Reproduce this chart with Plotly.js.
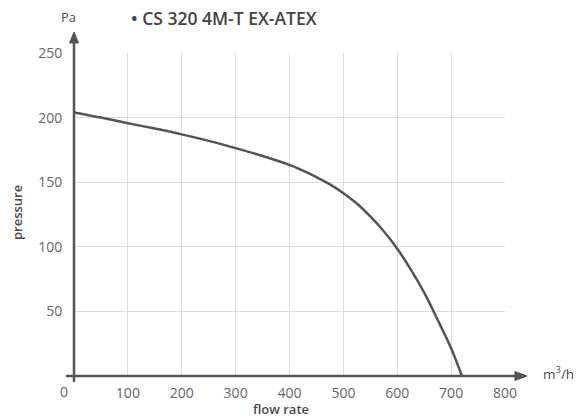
<!DOCTYPE html>
<html>
<head>
<meta charset="utf-8">
<script src="https://cdn.plot.ly/plotly-3.0.1.min.js"></script>
<style>html,body{margin:0;padding:0;background:#fff;}#chart{width:584px;height:419px;}</style>
</head>
<body>
<div id="chart"></div>
<script>
const flowRate = [0, 50, 100, 150, 200, 250, 300, 350, 400, 425, 450, 475, 500, 525, 550, 575, 600, 625, 650, 675, 700, 720];
const pressure = [204, 200, 195.7, 191.5, 187, 182, 176.4, 170.3, 163.4, 159, 154, 148.3, 141.5, 133.5, 123.5, 112, 98.5, 82.5, 64.5, 43.5, 21.5, 0];
const xTicks = [100, 200, 300, 400, 500, 600, 700, 800];
const yTicks = [50, 100, 150, 200, 250];
const chartTitle = "• CS 320 4M-T EX-ATEX";

const dark = "#555555";
const tickFont = {family: "Open Sans", size: 14, color: "#666666"};
const labelFont = {family: "Open Sans", size: 13, color: "#4a4a4a", weight: 600};

// plot area geometry in pixels (for decorations)
const L = 74, R = 79, T = 53, B = 43, W = 584, H = 419;
const PW = W - L - R, PH = H - T - B;
const px = v => v / PW;          // pixel offset -> paper x
const py = v => v / PH;          // pixel offset -> paper y

const trace = {
  x: flowRate, y: pressure, type: "scatter", mode: "lines",
  line: {color: dark, width: 2.5, shape: "spline", smoothing: 1},
  hoverinfo: "skip", showlegend: false
};

const shapes = [
  {type: "line", xref: "paper", yref: "paper", x0: 0, x1: 0, y0: py(-6), y1: 1 + py(12),
   line: {color: dark, width: 2.5}, layer: "above"},
  {type: "path", xref: "paper", yref: "paper",
   path: `M ${px(-4.5)},${1 + py(10)} L 0,${1 + py(21)} L ${px(4.5)},${1 + py(10)} Z`,
   fillcolor: dark, line: {color: dark, width: 1}, layer: "above"},
  {type: "line", xref: "paper", yref: "paper", x0: px(-8), x1: 1 + px(12), y0: 0, y1: 0,
   line: {color: dark, width: 2.5}, layer: "above"},
  {type: "path", xref: "paper", yref: "paper",
   path: `M ${1 + px(10)},${py(4.5)} L ${1 + px(22)},0 L ${1 + px(10)},${py(-4.5)} Z`,
   fillcolor: dark, line: {color: dark, width: 1}, layer: "above"}
];

const layout = {
  width: W, height: H,
  margin: {l: L, r: R, t: T, b: B},
  paper_bgcolor: "#fff", plot_bgcolor: "#fff",
  xaxis: {
    range: [0, 800], tickvals: xTicks, ticktext: xTicks.map(String),
    showgrid: true, gridcolor: "#dddddd", gridwidth: 1,
    zeroline: false, showline: false,
    ticks: "outside", ticklen: 4, tickcolor: "rgba(0,0,0,0)",
    tickfont: tickFont, fixedrange: true
  },
  yaxis: {
    range: [0, 250], tickvals: yTicks, ticktext: yTicks.map(String),
    showgrid: true, gridcolor: "#dddddd", gridwidth: 1,
    zeroline: false, showline: false,
    ticks: "outside", ticklen: 8, tickcolor: "rgba(0,0,0,0)",
    tickfont: tickFont, fixedrange: true
  },
  shapes: shapes,
  annotations: [
    {xref: "paper", yref: "paper", x: px(-10), y: py(-15), xanchor: "center", yanchor: "middle",
     text: "0", showarrow: false, font: tickFont},
    {xref: "paper", yref: "paper", x: px(-6), y: 1 + py(36), xanchor: "center", yanchor: "middle",
     text: "Pa", showarrow: false, font: {family: "Open Sans", size: 13, color: "#4a4a4a", weight: 500}},
    {xref: "paper", yref: "paper", x: 1 + px(53), y: py(3), xanchor: "center", yanchor: "middle",
     text: "m<sup>3</sup>/h", showarrow: false, font: {family: "Open Sans", size: 13.5, color: "#4a4a4a", weight: 500}},
    {xref: "paper", yref: "paper", x: px(207), y: py(-33), xanchor: "center", yanchor: "middle",
     text: "flow rate", showarrow: false, font: labelFont},
    {xref: "paper", yref: "paper", x: px(-57), y: py(164), xanchor: "center", yanchor: "middle",
     text: "pressure", textangle: -90, showarrow: false, font: labelFont},
    {xref: "paper", yref: "paper", x: px(55), y: 1 + py(35), xanchor: "left", yanchor: "middle",
     text: chartTitle, showarrow: false, font: {family: "Open Sans", size: 17.5, color: "#444444", weight: 600}}
  ]
};

Plotly.newPlot("chart", [trace], layout, {displayModeBar: false, staticPlot: true});
</script>
</body>
</html>
